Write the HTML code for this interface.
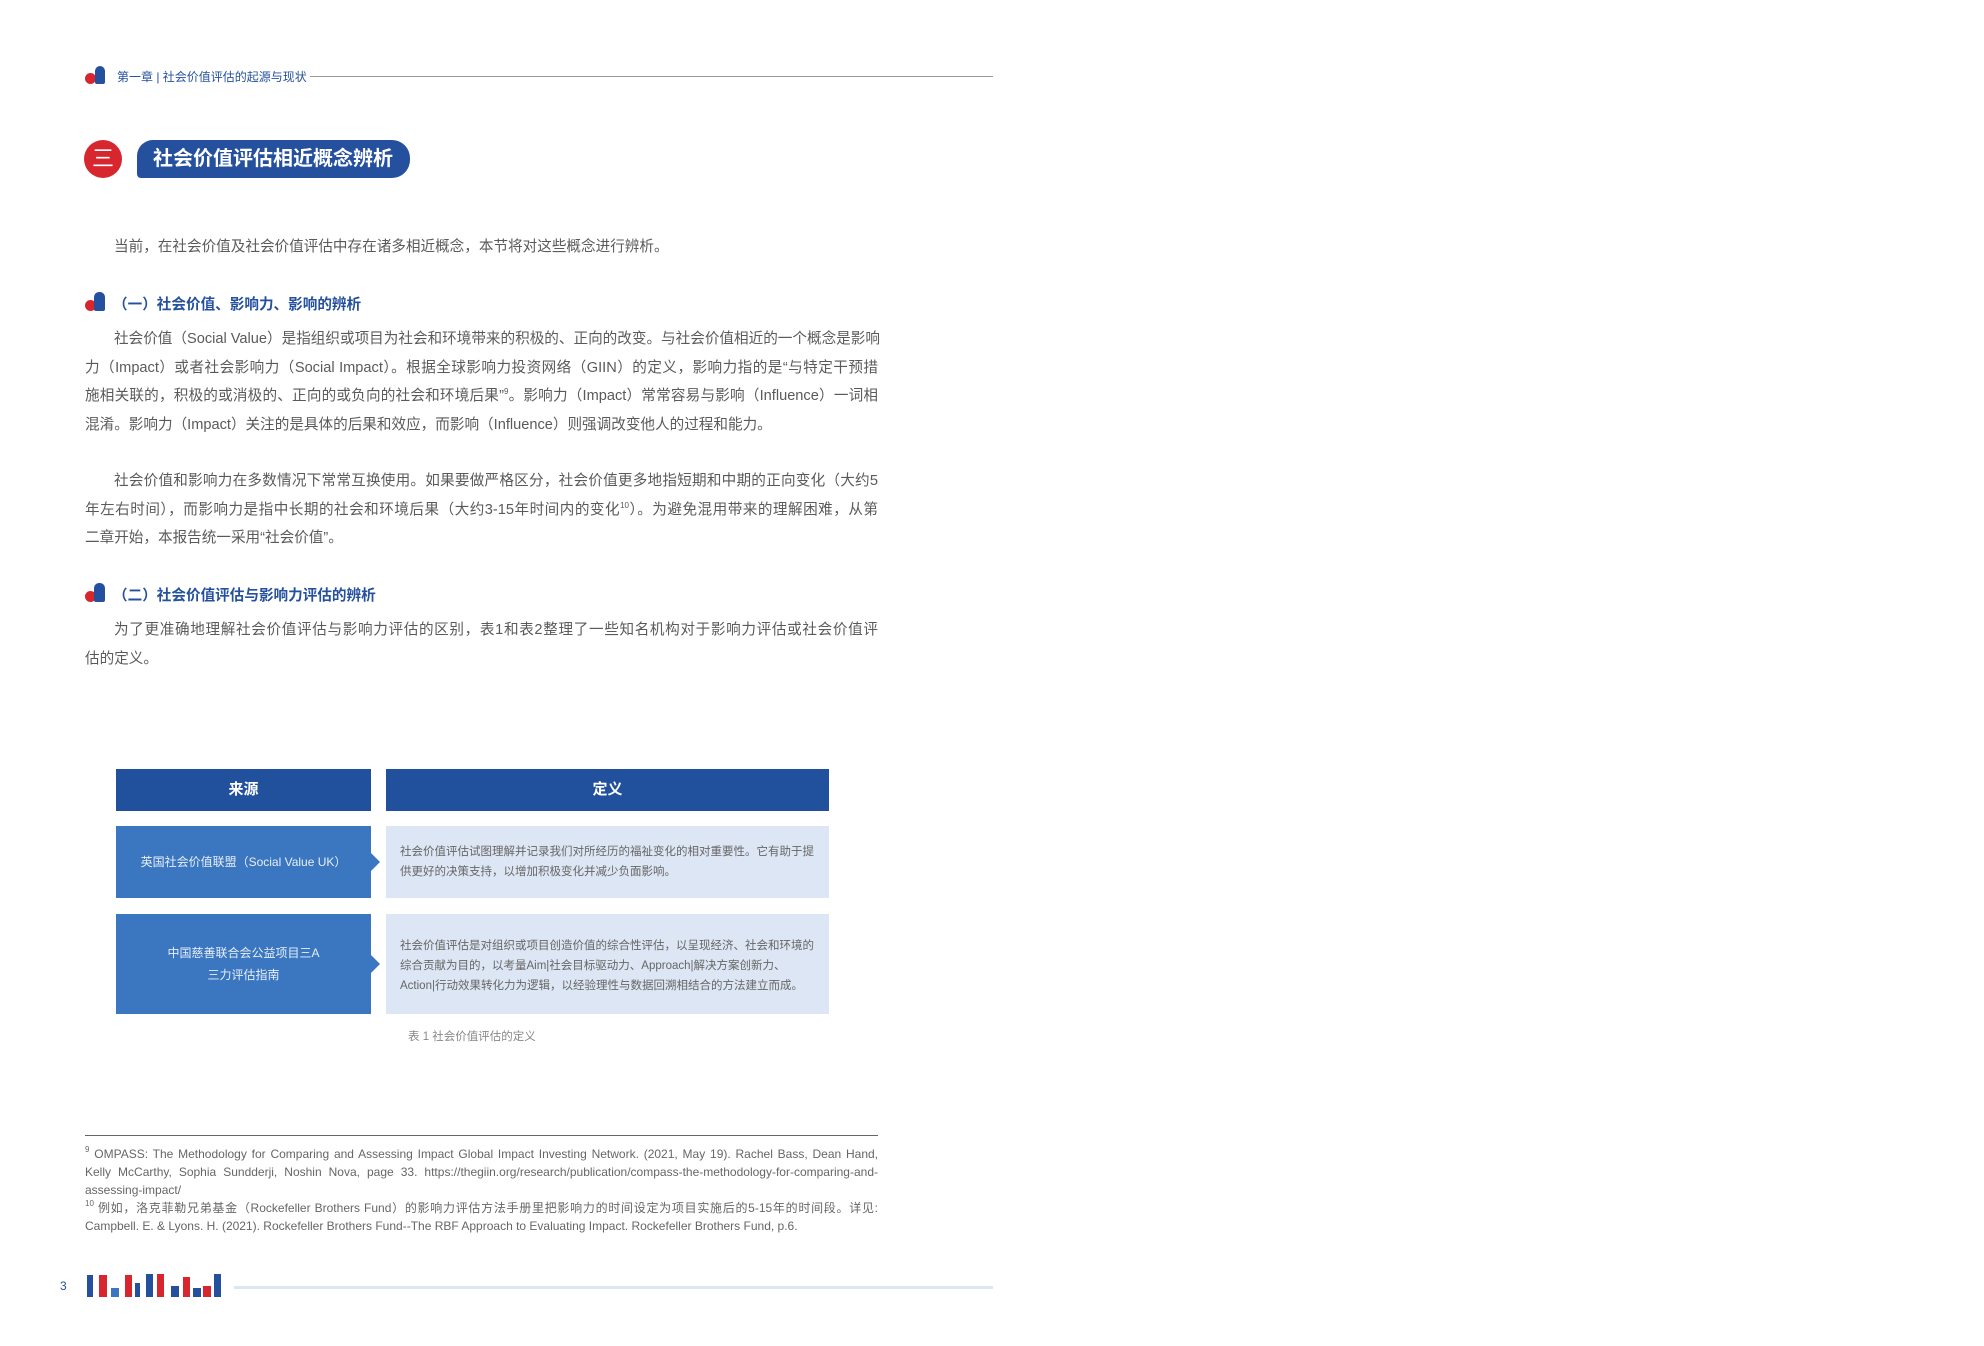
<!DOCTYPE html>
<html><head><meta charset="utf-8">
<style>
*{margin:0;padding:0;box-sizing:border-box}
body{width:1984px;height:1346px;background:#fff;position:relative;overflow:hidden;font-family:"Liberation Sans","Noto Sans CJK SC",sans-serif;color:#555}
.a{position:absolute}
.p{position:absolute;left:85px;width:793px;font-size:14.6px;line-height:28.5px;color:#5a5a5a}
.p div{text-align:justify;text-align-last:justify;white-space:nowrap;height:28.5px}
.p div.f{padding-left:29px}
.p div.l{text-align-last:left}
.h{position:absolute;left:85px;font-size:14.6px;font-weight:bold;color:#24509e}
.ic{position:absolute;width:21px;height:20px}
.ic i{position:absolute}
.fn{position:absolute;left:85px;width:793px;font-size:12px;line-height:18px;color:#666;text-align:justify}
sup{font-size:8px;line-height:0;vertical-align:6px}
</style></head><body>
<div class="ic" style="left:85px;top:66px">
<i style="left:0;top:7px;width:11px;height:11px;border-radius:50%;background:#d7262e"></i>
<i style="left:10px;top:0;width:10px;height:18px;border-radius:5px 5px 2px 2px;background:#24509e"></i></div>
<div class="a" style="left:117px;top:68px;font-size:12px;color:#24509e">第一章 | 社会价值评估的起源与现状</div>
<div class="a" style="left:310px;top:76px;width:683px;height:1px;background:#999"></div>
<div class="a" style="left:84px;top:140px;width:38px;height:38px;border-radius:50%;background:#d7262e;color:#fff;font-size:22px;line-height:38px;text-align:center">三</div>
<div class="a" style="left:137px;top:140px;width:273px;height:38px;background:#24509e;border-radius:16px 18px 18px 4px;color:#fff;font-size:20px;font-weight:bold;line-height:38px;padding-left:16px">社会价值评估相近概念辨析</div>
<div class="p" style="top:233px"><div class="f l">当前，在社会价值及社会价值评估中存在诸多相近概念，本节将对这些概念进行辨析。</div></div>
<div class="ic" style="left:85px;top:292px">
<i style="left:0;top:8px;width:11px;height:11px;border-radius:50%;background:#d7262e"></i>
<i style="left:9px;top:0;width:11px;height:19px;border-radius:5px 5px 2px 2px;background:#24509e"></i></div>
<div class="h" style="left:113px;top:293px">（一）社会价值、影响力、影响的辨析</div>
<div class="p" style="top:325px">
<div class="f">社会价值（Social Value）是指组织或项目为社会和环境带来的积极的、正向的改变。与社会价值相近的一个概念是影响</div>
<div>力（Impact）或者社会影响力（Social Impact）。根据全球影响力投资网络（GIIN）的定义，影响力指的是“与特定干预措</div>
<div>施相关联的，积极的或消极的、正向的或负向的社会和环境后果”<sup>9</sup>。影响力（Impact）常常容易与影响（Influence）一词相</div>
<div class="l">混淆。影响力（Impact）关注的是具体的后果和效应，而影响（Influence）则强调改变他人的过程和能力。</div>
</div>
<div class="p" style="top:467px">
<div class="f">社会价值和影响力在多数情况下常常互换使用。如果要做严格区分，社会价值更多地指短期和中期的正向变化（大约5</div>
<div>年左右时间），而影响力是指中长期的社会和环境后果（大约3-15年时间内的变化<sup>10</sup>）。为避免混用带来的理解困难，从第</div>
<div class="l">二章开始，本报告统一采用“社会价值”。</div>
</div>
<div class="ic" style="left:85px;top:583px">
<i style="left:0;top:8px;width:11px;height:11px;border-radius:50%;background:#d7262e"></i>
<i style="left:9px;top:0;width:11px;height:19px;border-radius:5px 5px 2px 2px;background:#24509e"></i></div>
<div class="h" style="left:113px;top:584px">（二）社会价值评估与影响力评估的辨析</div>
<div class="p" style="top:616px">
<div class="f">为了更准确地理解社会价值评估与影响力评估的区别，表1和表2整理了一些知名机构对于影响力评估或社会价值评</div>
<div class="l">估的定义。</div>
</div>
<div class="a" style="left:116px;top:769px;width:255px;height:42px;background:#21509c;color:#fff;font-size:15px;font-weight:bold;text-align:center;line-height:42px">来源</div>
<div class="a" style="left:386px;top:769px;width:443px;height:42px;background:#21509c;color:#fff;font-size:15px;font-weight:bold;text-align:center;line-height:42px">定义</div>
<div class="a" style="left:116px;top:826px;width:255px;height:72px;background:#3a77c0;color:#e8eef8;font-size:12px;text-align:center;line-height:72px">英国社会价值联盟（Social Value UK）</div>
<div class="a" style="left:371px;top:853px;border-left:9px solid #3a77c0;border-top:9px solid transparent;border-bottom:9px solid transparent"></div>
<div class="a" style="left:386px;top:826px;width:443px;height:72px;background:#dde6f4;font-size:11.5px;line-height:20px;color:#666;padding:16px 14px 0 14px">社会价值评估试图理解并记录我们对所经历的福祉变化的相对重要性。它有助于提供更好的决策支持，以增加积极变化并减少负面影响。</div>
<div class="a" style="left:116px;top:914px;width:255px;height:100px;background:#3a77c0;color:#e8eef8;font-size:12px;text-align:center;line-height:22px;padding-top:28px">中国慈善联合会公益项目三A<br>三力评估指南</div>
<div class="a" style="left:371px;top:955px;border-left:9px solid #3a77c0;border-top:9px solid transparent;border-bottom:9px solid transparent"></div>
<div class="a" style="left:386px;top:914px;width:443px;height:100px;background:#dde6f4;font-size:11.5px;line-height:20px;color:#666;padding:22px 14px 0 14px">社会价值评估是对组织或项目创造价值的综合性评估，以呈现经济、社会和环境的综合贡献为目的，以考量Aim|社会目标驱动力、Approach|解决方案创新力、Action|行动效果转化力为逻辑，以经验理性与数据回溯相结合的方法建立而成。</div>
<div class="a" style="left:408px;top:1028px;width:170px;font-size:11.5px;color:#888">表 1 社会价值评估的定义</div>
<div class="a" style="left:85px;top:1135px;width:793px;height:1px;background:#666"></div>
<div class="fn" style="top:1145px"><sup>9</sup> OMPASS: The Methodology for Comparing and Assessing Impact Global Impact Investing Network. (2021, May 19). Rachel Bass, Dean Hand, Kelly McCarthy, Sophia Sundderji, Noshin Nova, page 33. https://thegiin.org/research/publication/compass-the-methodology-for-comparing-and-assessing-impact/</div>
<div class="fn" style="top:1199px"><sup>10</sup> 例如，洛克菲勒兄弟基金（Rockefeller Brothers Fund）的影响力评估方法手册里把影响力的时间设定为项目实施后的5-15年的时间段。详见: Campbell. E. &amp; Lyons. H. (2021). Rockefeller Brothers Fund--The RBF Approach to Evaluating Impact. Rockefeller Brothers Fund, p.6.</div>
<div class="a" style="left:60px;top:1279px;font-size:12px;color:#24509e">3</div>
<div class="a" style="left:85px;top:1270px;width:140px;height:28px">
<i class="a" style="left:2px;top:5px;width:6px;height:22px;background:#24509e"></i>
<i class="a" style="left:14px;top:5px;width:8px;height:22px;background:#d7262e"></i>
<i class="a" style="left:26px;top:18px;width:8px;height:9px;background:#3a77c0"></i>
<i class="a" style="left:40px;top:5px;width:7px;height:22px;background:#d7262e"></i>
<i class="a" style="left:50px;top:13px;width:5px;height:14px;background:#24509e"></i>
<i class="a" style="left:61px;top:4px;width:7px;height:23px;background:#24509e"></i>
<i class="a" style="left:72px;top:4px;width:7px;height:23px;background:#d7262e"></i>
<i class="a" style="left:86px;top:16px;width:8px;height:11px;background:#24509e"></i>
<i class="a" style="left:98px;top:7px;width:7px;height:20px;background:#d7262e"></i>
<i class="a" style="left:108px;top:18px;width:8px;height:9px;background:#24509e"></i>
<i class="a" style="left:118px;top:16px;width:8px;height:11px;background:#d7262e"></i>
<i class="a" style="left:129px;top:4px;width:7px;height:23px;background:#24509e"></i>
</div>
<div class="a" style="left:234px;top:1286px;width:759px;height:3px;background:#dde6f4"></div>
</body></html>
